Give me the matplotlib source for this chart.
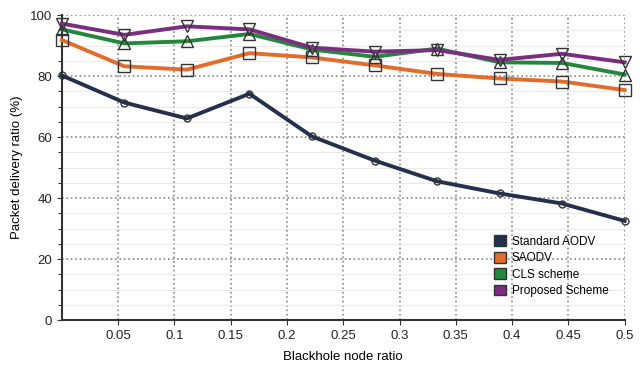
import matplotlib.pyplot as plt
from matplotlib.patches import Patch
from matplotlib.ticker import MultipleLocator

plt.rcParams["font.family"] = ["Liberation Sans", "DejaVu Sans"]

# blackhole node ratio
ratio = [0.0, 0.0556, 0.1111, 0.1667, 0.2222, 0.2778, 0.3333, 0.3889, 0.4444, 0.5]

standard_aodv = [80.2, 71.3, 66.1, 74.2, 60.2, 52.3, 45.5, 41.5, 38.2, 32.5]
saodv = [91.8, 83.2, 82.1, 87.5, 86.1, 83.5, 80.7, 79.2, 78.2, 75.4]
cls_scheme = [95.3, 90.7, 91.4, 93.8, 88.7, 86.3, 89.0, 84.5, 84.3, 80.5]
proposed = [97.2, 93.5, 96.3, 95.3, 89.3, 88.0, 88.5, 85.3, 87.3, 84.5]

series = [
    ("Standard AODV", standard_aodv, "#24304f", "o", 5),
    ("SAODV", saodv, "#e46c2a", "s", 8),
    ("CLS scheme", cls_scheme, "#23883c", "^", 8.5),
    ("Proposed Scheme", proposed, "#7b2d7f", "v", 8.5),
]

fig = plt.figure(figsize=(6.44, 3.67), dpi=100)
ax = fig.add_axes([0.096, 0.128, 0.874, 0.831])

for name, vals, color, marker, ms in series:
    ax.plot(ratio, vals, color=color, linewidth=2.8, marker=marker, markersize=ms,
            markerfacecolor="none", markeredgecolor="#333333", markeredgewidth=1.0,
            zorder=3, clip_on=False)

ax.set_xlim(0, 0.5)
ax.set_ylim(0, 100)
ax.set_xticks([0.05, 0.1, 0.15, 0.2, 0.25, 0.3, 0.35, 0.4, 0.45, 0.5])
ax.set_xticklabels(["0.05", "0.1", "0.15", "0.2", "0.25", "0.3", "0.35", "0.4", "0.45", "0.5"])
ax.yaxis.set_major_locator(MultipleLocator(20))
ax.yaxis.set_minor_locator(MultipleLocator(5))

ax.grid(True, which="major", color="#888888", linestyle=":", linewidth=1.2)
ax.grid(True, which="minor", axis="y", color="#e6e6e6", linestyle="-", linewidth=0.6)
ax.set_axisbelow(True)

for s in ["top", "right"]:
    ax.spines[s].set_visible(False)
for s in ["left", "bottom"]:
    ax.spines[s].set_color("#333333")
    ax.spines[s].set_linewidth(1.5)

ax.tick_params(axis="both", labelsize=9.5, color="#333333", colors="#222222")
ax.tick_params(axis="y", which="minor", length=3)

ax.set_xlabel("Blackhole node ratio", fontsize=9.5, labelpad=7)
ax.set_ylabel("Packet delivery ratio (%)", fontsize=9.5, labelpad=5)

handles = [Patch(facecolor=c, edgecolor="#333333", label=n) for n, _, c, _, _ in series]
ax.legend(handles=handles, loc="lower right", bbox_to_anchor=(0.99, 0.04), frameon=False,
          fontsize=8.5, handlelength=1.0, handleheight=1.0, handletextpad=0.5,
          labelspacing=0.35)

fig.savefig("out.png", dpi=100)
